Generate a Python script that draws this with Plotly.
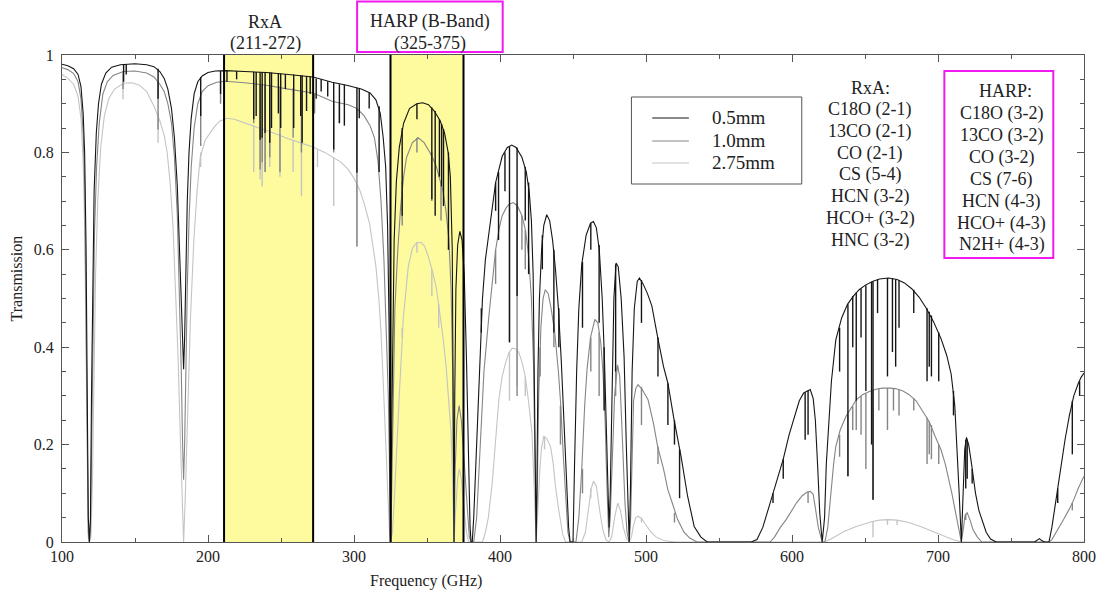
import plotly.graph_objects as go

# ---------------- data ----------------
series_names = ["0.5mm", "1.0mm", "2.75mm"]

f_05 = [100, 104, 108, 111, 113, 114.5, 115.5, 116.5, 117.3, 118.0, 118.75, 119.5, 120.2, 121, 122, 123.5, 125, 127, 130, 134,
        140, 150, 158, 163, 167, 170, 172.5, 175, 177, 179, 180.5, 181.8, 182.7, 183.3, 184, 184.8, 185.8, 187, 188.5, 190.5,
        193, 196, 200, 205, 212, 225, 240, 255, 272, 285, 295, 305, 311, 315, 318, 320, 321.7, 323, 324, 324.7, 325.15, 325.7,
        326.5, 327.5, 329, 331, 334, 338, 343, 347, 351, 355, 359, 362, 364.5, 366, 367.3, 368.0, 368.5, 369.0, 369.8, 371,
        372.5, 374, 375.5, 377, 378.5, 379.5, 380.2, 381, 382, 384, 386, 388, 390, 392.4, 395, 397, 401.5, 405, 408, 411, 415,
        418, 420, 421.5, 422.7, 423.6, 424.3, 424.76, 425.3, 426, 427, 428.5, 430, 432, 434, 436, 438, 440, 442, 444, 445.5,
        447, 448, 450, 451, 452.5, 454, 456, 459, 462, 464, 466, 468, 470, 471.5, 473, 474, 474.7, 475.5, 476.5, 478, 479.5,
        481, 483, 485, 486.5, 487.7, 488.5, 489.3, 490.5, 492, 494, 495.5, 498, 501, 504, 508, 512, 515, 519, 524, 528.5, 533,
        537.6, 542, 572, 576, 580, 585, 590, 594, 598, 601, 605, 608, 610.5, 612.5, 614.5, 616, 617.5, 619, 620.7, 622.3,
        623.5, 625, 627, 630, 634, 638, 642, 646, 650, 655, 660, 666, 672, 677, 682, 687, 692, 697, 702, 706, 709, 711.5, 713,
        714.5, 716, 717, 718.3, 719.5, 721, 723, 725.7, 728, 730, 733, 736, 740, 766, 768, 769.5, 771, 773, 776, 778, 780,
        782, 784, 787, 790, 793, 796, 798, 800]
t_05 = [0.981, 0.978, 0.972, 0.96, 0.935, 0.88, 0.8, 0.6, 0.3, 0.05, 0.0, 0.05, 0.3, 0.55, 0.72, 0.84, 0.9, 0.94, 0.963, 0.975,
        0.98, 0.982, 0.98, 0.976, 0.966, 0.952, 0.93, 0.89, 0.83, 0.73, 0.6, 0.46, 0.38, 0.355, 0.42, 0.55, 0.7, 0.8, 0.87, 0.92,
        0.945, 0.957, 0.964, 0.967, 0.968, 0.966, 0.964, 0.96, 0.955, 0.944, 0.938, 0.93, 0.922, 0.908, 0.88, 0.83, 0.77, 0.65,
        0.45, 0.2, 0.0, 0.2, 0.45, 0.62, 0.74, 0.81, 0.86, 0.89, 0.9, 0.902, 0.898, 0.885, 0.865, 0.84, 0.8, 0.75, 0.6, 0.3, 0.0,
        0.3, 0.52, 0.61, 0.638, 0.62, 0.55, 0.38, 0.15, 0.03, 0.0, 0.0, 0.05, 0.2, 0.38, 0.5, 0.58, 0.635, 0.7, 0.738, 0.792,
        0.81, 0.815, 0.81, 0.79, 0.76, 0.72, 0.66, 0.55, 0.35, 0.12, 0.0, 0.12, 0.35, 0.5, 0.6, 0.65, 0.672, 0.66, 0.62, 0.56,
        0.48, 0.37, 0.24, 0.12, 0.03, 0.0, 0.0, 0.15, 0.35, 0.48, 0.57, 0.63, 0.655, 0.658, 0.645, 0.6, 0.5, 0.38, 0.2, 0.07,
        0.03, 0.1, 0.3, 0.5, 0.573, 0.565, 0.5, 0.38, 0.2, 0.05, 0.0, 0.1, 0.35, 0.48, 0.535, 0.542, 0.53, 0.51, 0.485, 0.42,
        0.36, 0.326, 0.255, 0.176, 0.094, 0.032, 0.01, 0.0, 0.0, 0.005, 0.03, 0.08, 0.13, 0.17, 0.22, 0.25, 0.29, 0.306, 0.31,
        0.313, 0.295, 0.25, 0.16, 0.06, 0.0, 0.05, 0.16, 0.24, 0.33, 0.415, 0.46, 0.488, 0.505, 0.518, 0.527, 0.535, 0.54,
        0.542, 0.539, 0.532, 0.52, 0.503, 0.48, 0.452, 0.418, 0.383, 0.345, 0.28, 0.2, 0.1, 0.0, 0.1, 0.19, 0.215, 0.2, 0.16,
        0.1, 0.065, 0.046, 0.02, 0.006, 0.0, 0.0, 0.005, 0.007, 0.003, 0.0, 0.0, 0.03, 0.07, 0.11, 0.155, 0.21, 0.26, 0.3, 0.325,
        0.338, 0.347]

f_10 = [100, 104, 108, 111, 113, 114.5, 115.5, 116.5, 117.3, 118.0, 118.75, 119.5, 120.3, 121.2, 122.3, 123.7, 125.5, 128, 131,
        135, 142, 150, 158, 163, 167, 170, 172.5, 175, 177, 179, 180.5, 181.7, 182.6, 183.3, 184, 184.8, 185.8, 187, 188.5,
        190.5, 193, 196, 200, 206, 212, 225, 240, 255, 265, 272, 285, 296, 302, 307, 311, 314, 316.5, 318.5, 320.5, 322, 323.5,
        324.5, 325.15, 325.8, 326.8, 328, 330, 332, 334, 336, 340, 344, 348, 352, 356, 359, 361, 363, 365, 366.5, 367.6, 368.5,
        369.3, 370.5, 372, 373.5, 375, 377, 379, 380.2, 382, 384, 386.5, 389, 392.4, 395, 397, 399.5, 401.5, 404, 406, 409,
        412, 415, 417.5, 419.6, 421.5, 423, 424, 424.76, 425.5, 426.5, 428, 429.5, 431, 433, 435, 437.5, 440, 441.5, 443.5,
        445, 446.5, 448, 452, 454, 456, 458, 459.6, 462, 465, 467, 469, 470.5, 472, 473.2, 474.5, 475.5, 476.8, 478.5, 480.5,
        482, 483.3, 484.5, 485.6, 487, 488.5, 489.5, 490.5, 491.5, 493, 494.5, 497, 501.4, 505, 508, 512, 515, 518, 521.7,
        526, 530, 535, 585, 588, 592, 596, 600, 603, 607, 610, 612.5, 614.5, 616, 618, 620.7, 622.5, 624.5, 626.5, 628.5, 630,
        633, 637, 641, 644, 648, 653, 658, 662, 667, 671, 676, 680, 685, 689, 694, 698, 702, 705, 707, 709.5, 711.7, 713.5,
        716, 717.5, 718.5, 720, 722, 724, 727, 730, 776, 778, 781, 784, 786, 790, 793, 796, 800]
t_10 = [0.974, 0.97, 0.962, 0.945, 0.91, 0.84, 0.74, 0.5, 0.2, 0.02, 0.0, 0.03, 0.2, 0.45, 0.64, 0.77, 0.86, 0.92, 0.945,
        0.958, 0.966, 0.967, 0.963, 0.955, 0.94, 0.925, 0.9, 0.86, 0.79, 0.67, 0.52, 0.35, 0.2, 0.128, 0.2, 0.35, 0.52, 0.66,
        0.77, 0.85, 0.9, 0.925, 0.937, 0.944, 0.946, 0.943, 0.938, 0.93, 0.925, 0.922, 0.905, 0.898, 0.89, 0.875, 0.855, 0.83,
        0.78, 0.7, 0.58, 0.45, 0.3, 0.12, 0.0, 0.1, 0.3, 0.48, 0.6, 0.69, 0.75, 0.79, 0.82, 0.83, 0.82, 0.8, 0.775, 0.745, 0.72,
        0.68, 0.62, 0.52, 0.35, 0.0, 0.15, 0.25, 0.28, 0.25, 0.18, 0.08, 0.01, 0.0, 0.0, 0.05, 0.2, 0.35, 0.464, 0.55, 0.6,
        0.645, 0.67, 0.685, 0.693, 0.697, 0.69, 0.67, 0.64, 0.587, 0.5, 0.36, 0.15, 0.0, 0.1, 0.3, 0.44, 0.5, 0.518, 0.51,
        0.48, 0.43, 0.35, 0.286, 0.17, 0.08, 0.02, 0.0, 0.0, 0.05, 0.15, 0.28, 0.354, 0.42, 0.457, 0.45, 0.41, 0.35, 0.25,
        0.12, 0.01, 0.05, 0.18, 0.3, 0.364, 0.34, 0.25, 0.15, 0.08, 0.02, 0.0, 0.05, 0.2, 0.29, 0.315, 0.323, 0.315, 0.292,
        0.245, 0.196, 0.15, 0.107, 0.08, 0.046, 0.02, 0.008, 0.0, 0.0, 0.01, 0.03, 0.046, 0.065, 0.08, 0.095, 0.102, 0.104,
        0.098, 0.07, 0.03, 0.0, 0.0, 0.03, 0.1, 0.16, 0.196, 0.23, 0.258, 0.278, 0.292, 0.302, 0.309, 0.314, 0.316, 0.316,
        0.315, 0.31, 0.303, 0.29, 0.272, 0.247, 0.217, 0.19, 0.16, 0.135, 0.1, 0.066, 0.035, 0.0, 0.03, 0.055, 0.06, 0.045,
        0.025, 0.01, 0.0, 0.0, 0.005, 0.02, 0.035, 0.046, 0.068, 0.087, 0.11, 0.135]

f_275 = [100, 104, 108, 111, 113, 114.5, 115.5, 116.5, 117.3, 118.0, 118.75, 119.8, 120.8, 121.8, 123, 124.5, 126.5, 129, 132,
         136, 142, 148, 153, 158, 163, 167, 170, 172, 174, 176, 178, 179.5, 181, 182.3, 183.3, 184.3, 185.5, 186.5, 188, 190.3,
         192.5, 194.7, 198, 201.5, 205, 208, 213, 218, 225, 235, 245, 255, 265, 272, 280, 286, 291, 296, 300, 303.8, 307,
         310.6, 313, 315, 317, 318.5, 320, 321.5, 323, 324.3, 325.15, 326.3, 327.5, 329, 331, 333.8, 335.5, 337.2, 340, 343,
         346, 348.4, 351, 354, 356.5, 358.6, 361, 363.1, 365, 366.5, 367.5, 368.5, 369.5, 371, 372.2, 373.5, 375, 377, 378.5,
         388, 390, 392, 394.7, 397, 399.2, 401.5, 403.8, 406, 408.3, 410.5, 412.8, 415, 417.3, 419.5, 421.9, 423.3, 424.76,
         425.7, 426.5, 427.3, 428.5, 430, 432, 434.7, 436.5, 438, 440, 441.4, 443, 445, 456, 458.5, 460.5, 462.5, 464, 466,
         468.5, 470.5, 472.5, 474.7, 476.5, 478.5, 480.6, 482.5, 484.5, 486.5, 488.5, 490, 491.3, 493, 494.5, 497, 500, 503,
         507, 512, 520, 622, 626, 630, 636, 644, 650, 655, 660, 666, 672, 680, 688, 696, 703, 710, 716, 800]
t_275 = [0.96, 0.952, 0.94, 0.915, 0.87, 0.78, 0.65, 0.4, 0.12, 0.01, 0.0, 0.01, 0.12, 0.35, 0.55, 0.7, 0.81, 0.875, 0.91,
         0.93, 0.942, 0.943, 0.938, 0.925, 0.895, 0.865, 0.835, 0.8, 0.74, 0.65, 0.51, 0.38, 0.22, 0.08, 0.0, 0.08, 0.2, 0.32,
         0.46, 0.62, 0.72, 0.79, 0.825, 0.84, 0.855, 0.864, 0.87, 0.868, 0.86, 0.85, 0.84, 0.828, 0.818, 0.811, 0.8, 0.79,
         0.78, 0.765, 0.747, 0.724, 0.695, 0.655, 0.61, 0.566, 0.5, 0.43, 0.33, 0.21, 0.1, 0.02, 0.0, 0.02, 0.08, 0.18, 0.3,
         0.46, 0.52, 0.566, 0.603, 0.615, 0.615, 0.607, 0.585, 0.553, 0.52, 0.477, 0.42, 0.36, 0.29, 0.224, 0.13, 0.0, 0.06,
         0.13, 0.15, 0.13, 0.08, 0.02, 0.0, 0.0, 0.02, 0.05, 0.122, 0.21, 0.292, 0.34, 0.368, 0.388, 0.398, 0.397, 0.39, 0.37,
         0.34, 0.29, 0.224, 0.12, 0.0, 0.05, 0.11, 0.15, 0.195, 0.217, 0.213, 0.195, 0.16, 0.114, 0.07, 0.04, 0.015, 0.0, 0.0,
         0.02, 0.06, 0.11, 0.125, 0.115, 0.06, 0.025, 0.005, 0.0, 0.01, 0.05, 0.08, 0.065, 0.03, 0.008, 0.0, 0.01, 0.032, 0.05,
         0.053, 0.048, 0.035, 0.022, 0.01, 0.003, 0.0, 0.0, 0.005, 0.012, 0.022, 0.032, 0.038, 0.042, 0.045, 0.046, 0.045,
         0.04, 0.032, 0.022, 0.013, 0.005, 0.0, 0.0]

# narrow absorption lines: frequency, level above the line, level at the line centre
dip_f_05 = [142.2, 144.0, 165.8, 195.0, 208.6, 213.0, 219.6, 231.3, 233.0, 235.7, 237.1, 239.1, 242.3, 243.5, 248.2, 249.8,
            253.0, 258.7, 263.5, 264.5, 267.5, 270.0, 274.1, 277.5, 282.0, 286.1, 290.0, 293.4, 302.0, 303.6, 310.4, 317.2,
            333.0, 343.1, 353.3, 355.6, 358.5, 360.0, 361.3, 364.7, 387.2, 397.0, 399.0, 403.4, 406.5, 411.7, 417.3, 419.6,
            429.0, 436.9, 440.3, 456.5, 462.2, 467.9, 471.3, 479.2, 496.9, 508.2, 515.0, 519.5, 523.0, 587.0, 594.0, 609.0,
            611.0, 632.6, 638.3, 641.6, 644.0, 647.3, 650.6, 654.5, 655.5, 658.6, 665.4, 668.8, 671.0, 673.3, 683.4, 692.5,
            694.0, 695.5, 700.5, 710.6, 719.0, 720.0, 723.4, 782.0, 792.0, 797.0]
dip_top_05 = [0.981, 0.981, 0.972, 0.955, 0.967, 0.968, 0.967, 0.965, 0.965, 0.965, 0.965, 0.964, 0.964, 0.964, 0.963, 0.962,
              0.961, 0.96, 0.958, 0.958, 0.957, 0.956, 0.952, 0.95, 0.946, 0.943, 0.94, 0.939, 0.933, 0.931, 0.922, 0.895,
              0.85, 0.9, 0.892, 0.885, 0.868, 0.858, 0.848, 0.8, 0.48, 0.738, 0.76, 0.8, 0.812, 0.81, 0.77, 0.738,
              0.63, 0.6, 0.48, 0.575, 0.655, 0.61, 0.4, 0.57, 0.538, 0.42, 0.326, 0.25, 0.19, 0.1, 0.17, 0.307,
              0.311, 0.44, 0.488, 0.505, 0.512, 0.52, 0.527, 0.534, 0.535, 0.539, 0.542, 0.541, 0.539, 0.537, 0.518, 0.48,
              0.473, 0.465, 0.43, 0.31, 0.21, 0.21, 0.15, 0.11, 0.29, 0.33]
dip_bot_05 = [0.945, 0.96, 0.91, 0.875, 0.92, 0.945, 0.95, 0.868, 0.875, 0.826, 0.83, 0.84, 0.82, 0.85, 0.88, 0.85,
              0.93, 0.85, 0.875, 0.82, 0.885, 0.92, 0.91, 0.925, 0.915, 0.806, 0.86, 0.855, 0.758, 0.87, 0.89, 0.76,
              0.67, 0.868, 0.704, 0.67, 0.75, 0.73, 0.69, 0.6, 0.43, 0.68, 0.62, 0.72, 0.41, 0.505, 0.66, 0.55,
              0.56, 0.43, 0.4, 0.44, 0.6, 0.45, 0.27, 0.35, 0.45, 0.34, 0.24, 0.2, 0.09, 0.08, 0.13, 0.21,
              0.22, 0.35, 0.135, 0.4, 0.29, 0.42, 0.31, 0.2, 0.087, 0.47, 0.34, 0.39, 0.36, 0.44, 0.47, 0.33,
              0.36, 0.34, 0.33, 0.26, 0.11, 0.13, 0.12, 0.08, 0.18, 0.3]

dip_f_10 = [141.8, 165.8, 195.0, 208.6, 231.3, 235.7, 237.1, 239.1, 242.3, 249.3, 258.3, 264.0, 273.0, 286.1, 290.0, 302.0,
            333.0, 343.1, 353.3, 359.6, 397.0, 406.5, 411.7, 415.0, 417.3, 427.5, 436.9, 441.4, 456.5, 462.2, 467.9, 479.2,
            496.9, 508.2, 519.5, 611.0, 632.6, 638.3, 641.6, 644.0, 647.3, 650.6, 655.5, 659.5, 665.4, 669.5, 673.3, 683.4,
            692.5, 694.0, 695.5, 700.5, 719.0, 792.0]
dip_top_10 = [0.966, 0.945, 0.925, 0.945, 0.942, 0.94, 0.94, 0.939, 0.938, 0.936, 0.932, 0.925, 0.92, 0.905, 0.903, 0.89,
              0.74, 0.83, 0.8, 0.74, 0.6, 0.693, 0.695, 0.67, 0.64, 0.4, 0.45, 0.28, 0.15, 0.42, 0.43, 0.36,
              0.318, 0.196, 0.06, 0.103, 0.22, 0.262, 0.278, 0.292, 0.3, 0.305, 0.31, 0.315, 0.316, 0.316, 0.313, 0.295,
              0.255, 0.248, 0.24, 0.2, 0.058, 0.08]
dip_bot_10 = [0.93, 0.847, 0.813, 0.9, 0.86, 0.765, 0.78, 0.76, 0.79, 0.76, 0.83, 0.8, 0.88, 0.8, 0.86, 0.607,
              0.65, 0.8, 0.7, 0.66, 0.53, 0.41, 0.3, 0.6, 0.56, 0.34, 0.4, 0.2, 0.1, 0.35, 0.3, 0.3,
              0.24, 0.16, 0.04, 0.08, 0.175, 0.135, 0.23, 0.23, 0.22, 0.15, 0.087, 0.27, 0.23, 0.27, 0.26, 0.27,
              0.16, 0.18, 0.17, 0.16, 0.045, 0.065]

dip_f_275 = [141.8, 165.8, 195.0, 231.3, 235.7, 237.1, 239.1, 242.3, 249.3, 258.3, 264.0, 275.0, 286.1, 302.0, 333.0, 343.1,
             353.3, 358.0, 406.5, 411.7, 417.3, 430.5, 462.2, 496.9, 655.5, 665.4, 672.0]
dip_top_275 = [0.942, 0.88, 0.8, 0.855, 0.852, 0.851, 0.849, 0.845, 0.838, 0.826, 0.82, 0.806, 0.79, 0.735, 0.44, 0.615,
               0.56, 0.49, 0.39, 0.395, 0.34, 0.216, 0.11, 0.05, 0.043, 0.046, 0.045]
dip_bot_275 = [0.909, 0.82, 0.77, 0.76, 0.745, 0.73, 0.76, 0.77, 0.75, 0.76, 0.71, 0.77, 0.69, 0.607, 0.42, 0.594,
               0.505, 0.44, 0.29, 0.32, 0.3, 0.19, 0.09, 0.04, 0.01, 0.035, 0.035]

bands = [(211, 272), (325, 375)]
band_titles = [("RxA", "(211-272)"), ("HARP (B-Band)", "(325-375)")]
rxa_lines = ["RxA:", "C18O (2-1)", "13CO (2-1)", "CO (2-1)", "CS (5-4)", "HCN (3-2)", "HCO+ (3-2)", "HNC (3-2)"]
harp_lines = ["HARP:", "C18O (3-2)", "13CO (3-2)", "CO (3-2)", "CS (7-6)", "HCN (4-3)", "HCO+ (4-3)", "N2H+ (4-3)"]
x_ticks = [100, 200, 300, 400, 500, 600, 700, 800]
y_ticks = [0, 0.2, 0.4, 0.6, 0.8, 1]

# ---------------- styling / layout helpers ----------------
W, H = 1108, 595
ML, MR, MT, MB = 62, 14, 55, 53
PW, PH = W - ML - MR, H - MT - MB
FONT = "Liberation Serif"
colors = ["#151515", "#858585", "#c4c4c4"]
MAGENTA = "#f01af0"


def px(x):   # page pixel -> paper x
    return (x - ML) / PW


def py(y):   # page pixel -> paper y
    return (MT + PH - y) / PH


def dip_xy(fs, tops, bots):
    xs, ys = [], []
    for f, a, b in zip(fs, tops, bots):
        xs += [f, f, None]
        ys += [a, b, None]
    return xs, ys


fig = go.Figure()
curves = [(f_275, t_275, dip_f_275, dip_top_275, dip_bot_275, 2),
          (f_10, t_10, dip_f_10, dip_top_10, dip_bot_10, 1),
          (f_05, t_05, dip_f_05, dip_top_05, dip_bot_05, 0)]
for fx, ty, df, dt, db, idx in curves:
    fig.add_trace(go.Scatter(x=fx, y=ty, mode="lines", name=series_names[idx],
                             line=dict(color=colors[idx], width=1.1), showlegend=False, hoverinfo="skip"))
    dx, dy = dip_xy(df, dt, db)
    fig.add_trace(go.Scatter(x=dx, y=dy, mode="lines", line=dict(color=colors[idx], width=1.4),
                             showlegend=False, hoverinfo="skip", connectgaps=False))

shapes = []
for a, b in bands:
    shapes.append(dict(type="rect", xref="x", yref="paper", x0=a, x1=b, y0=0, y1=1,
                       fillcolor="#fdfb9e", line=dict(width=0), layer="below"))
    for e in (a, b):
        shapes.append(dict(type="line", xref="x", yref="paper", x0=e, x1=e, y0=0, y1=1,
                           line=dict(color="#000000", width=2), layer="above"))

# HARP top label box
shapes.append(dict(type="rect", xref="paper", yref="paper", x0=px(360), x1=px(507), y0=py(52), y1=py(1.5),
                   line=dict(color=MAGENTA, width=2)))
# HARP list box
shapes.append(dict(type="rect", xref="paper", yref="paper", x0=px(953), x1=px(1063), y0=py(258), y1=py(71),
                   line=dict(color=MAGENTA, width=2)))
# manual legend
shapes.append(dict(type="rect", xref="paper", yref="paper", x0=px(637), x1=px(809), y0=py(184), y1=py(97),
                   line=dict(color="#555555", width=1), fillcolor="white", layer="above"))
legend_rows = [118, 141, 163]
annotations = []
for i, yy in enumerate(legend_rows):
    shapes.append(dict(type="line", xref="paper", yref="paper", x0=px(658), x1=px(695), y0=py(yy), y1=py(yy),
                       line=dict(color=colors[i], width=1.2), layer="above"))
    annotations.append(dict(xref="paper", yref="paper", x=px(716), y=py(yy), text=series_names[i],
                            showarrow=False, xanchor="left", yanchor="middle",
                            font=dict(family=FONT, size=19, color="#222")))

title_x = [267, 434]
for (t1, t2), cx in zip(band_titles, title_x):
    annotations.append(dict(xref="paper", yref="paper", x=px(cx), y=py(22), text=t1, showarrow=False,
                            xanchor="center", yanchor="middle", font=dict(family=FONT, size=18, color="#222")))
    annotations.append(dict(xref="paper", yref="paper", x=px(cx), y=py(43), text=t2, showarrow=False,
                            xanchor="center", yanchor="middle", font=dict(family=FONT, size=18, color="#222")))

rxa_y = [88, 109.5, 131, 153, 174.5, 196.5, 218, 240]
for txt, yy in zip(rxa_lines, rxa_y):
    annotations.append(dict(xref="paper", yref="paper", x=px(878), y=py(yy), text=txt, showarrow=False,
                            xanchor="center", yanchor="middle", font=dict(family=FONT, size=18, color="#222")))
harp_y = [91, 113, 135, 157, 179, 201, 223, 244]
for i, (txt, yy) in enumerate(zip(harp_lines, harp_y)):
    annotations.append(dict(xref="paper", yref="paper", x=px(1015 if i == 0 else 1011), y=py(yy), text=txt,
                            showarrow=False, xanchor="center", yanchor="middle",
                            font=dict(family=FONT, size=18, color="#222")))

annotations.append(dict(xref="paper", yref="paper", x=px(430), y=py(581), text="Frequency (GHz)", showarrow=False,
                        xanchor="center", yanchor="middle", font=dict(family=FONT, size=16, color="#222")))
annotations.append(dict(xref="paper", yref="paper", x=px(16), y=py(278), text="Transmission", showarrow=False,
                        textangle=-90, xanchor="center", yanchor="middle", font=dict(family=FONT, size=16, color="#222")))

axis_common = dict(showgrid=False, zeroline=False, showline=True, linecolor="#555555", linewidth=1,
                   mirror="ticks", ticks="inside", ticklen=7, tickcolor="#555555",
                   tickfont=dict(family=FONT, size=16, color="#222"))
fig.update_layout(
    width=W, height=H, margin=dict(l=ML, r=MR, t=MT, b=MB),
    paper_bgcolor="white", plot_bgcolor="white",
    shapes=shapes, annotations=annotations,
    xaxis=dict(range=[100, 800], tickvals=x_ticks, ticktext=[str(v) for v in x_ticks],
               minor=dict(dtick=50, ticks="inside", ticklen=4, tickcolor="#555555"), **axis_common),
    yaxis=dict(range=[0, 1], tickvals=y_ticks, ticktext=["0", "0.2", "0.4", "0.6", "0.8", "1"],
               ticklabelstandoff=4,
               minor=dict(dtick=0.05, tick0=0, ticks="inside", ticklen=4, tickcolor="#555555"), **axis_common),
)
# remove the browser's default 8px page margin so the figure fills the window exactly
fig.write_html("out.html", config={"displayModeBar": False},
               post_script="document.body.style.margin='0';document.body.style.overflow='hidden';")
